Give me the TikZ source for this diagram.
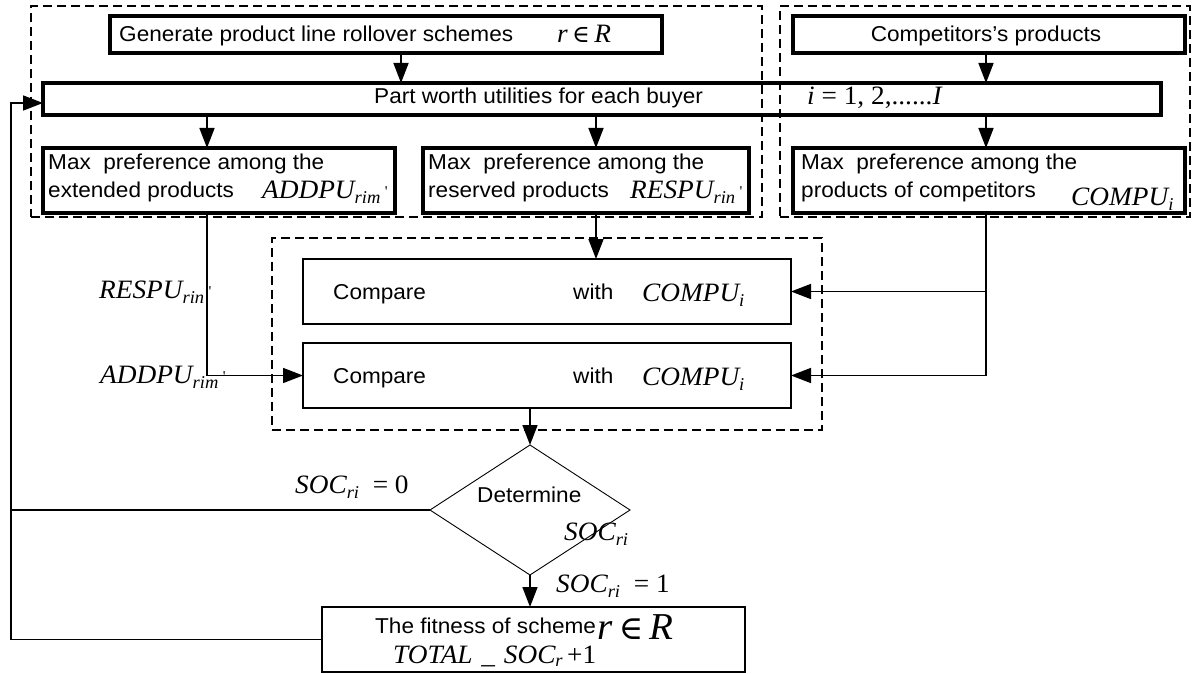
\documentclass[tikz,border=0pt]{standalone}
\usepackage{fontspec}
\setmainfont{Liberation Sans}[FakeStretch=1.05]
\newfontfamily\tms{Liberation Serif}[FakeStretch=1.03]
\newfontfamily\dvs{DejaVu Serif}
\usetikzlibrary{arrows.meta,shapes.geometric}
\newcommand\mi{\tms\itshape}
\newcommand\sz[1]{\fontsize{#1}{#1}\selectfont}
\newcommand\Vsub[2]{{\mi #1}\raisebox{-5.5pt}{\sz{18}\mi #2}}
\newcommand\prm{\,\raisebox{2pt}{\sz{15}\tms '}}
\newcommand\bx[6]{%
  \pgfmathsetmacro\bw{#4-#2}\pgfmathsetmacro\bh{#5-#3}%
  \pgfmathsetmacro\bcx{(#2+#4)/2}\pgfmathsetmacro\bcy{(#3+#5)/2}%
  \node[#6, minimum width=\bw pt, minimum height=\bh pt] (#1) at (\bcx,\bcy) {};}
\tikzset{
  base/.style={draw=black, inner sep=0pt, outer sep=0pt},
  dbox/.style={base, line width=2.8pt, dash pattern=on 9pt off 5pt},
  tbox/.style={base, line width=3.5pt},
  nbox/.style={base, line width=1.8pt},
  conn/.style={line width=1.6pt, -{Triangle[length=20pt,width=15pt]}},
  plain/.style={line width=1.6pt},
  lab/.style={anchor=base west, inner sep=0pt, font=\sz{21.5}},
  mlab/.style={anchor=base west, inner sep=0pt, font=\sz{26.5}\tms},
}
\begin{document}
\begin{tikzpicture}[x=1pt, y=-1pt]
\useasboundingbox (0,0) rectangle (1194,674);
% dashed groups
\bx{grpA}{31}{6}{762}{217}{dbox}
\bx{grpB}{780}{6}{1190}{217}{dbox}
\bx{grpC}{272}{238}{822}{430}{dbox}
% boxes
\bx{gen}{110}{16}{662}{53}{tbox}
\bx{comp}{793}{16}{1185}{53}{tbox}
\bx{pw}{43}{83}{1161}{115}{tbox}
\bx{maxL}{43}{148}{395}{213}{tbox}
\bx{maxM}{423}{148}{749}{213}{tbox}
\bx{maxR}{793}{148}{1185}{213}{tbox}
\bx{cmpA}{303}{259}{791}{324}{nbox}
\bx{cmpB}{303}{343}{791}{408}{nbox}
\node[base, diamond, line width=0.9pt, minimum width=200pt, minimum height=130pt] (dia) at (530,510) {};
\bx{fit}{322}{607}{745}{672}{nbox}
% coordinates
\coordinate (xg) at (401,0);
\coordinate (xl) at (207,0);
\coordinate (xm) at (596,0);
\coordinate (xr) at (986,0);
\coordinate (fbtop) at (11,103);
% texts
\node[lab] (tgen) at (119,42) {Generate product line rollover schemes};
\node[mlab] (tgenr) at (557,43) {{\mi r}\,{\dvs\sz{24}∈}\,{\mi R}};
\node[lab, anchor=base] (tcomp) at (986,42) {Competitors's products};
\node[lab] (tpw) at (374,104) {Part worth utilities for each buyer};
\node[mlab] (tpwi) at (807,105) {{\mi i} = 1, 2,......{\mi I}};
\node[lab] (tl1) at (48,169) {Max\ \ preference among the};
\node[lab] (tl2) at (48,197) {extended products};
\node[mlab] (tl3) at (262,198) {\Vsub{ADDPU}{rim}\prm};
\node[lab] (tm1) at (428,169) {Max\ \ preference among the};
\node[lab] (tm2) at (428,197) {reserved products};
\node[mlab] (tm3) at (630,198) {\Vsub{RESPU}{rin}\prm};
\node[lab] (tr1) at (801,169) {Max\ \ preference among the};
\node[lab] (tr2) at (801,197) {products of competitors};
\node[mlab] (tr3) at (1071,205) {\Vsub{COMPU}{i}};
\node[lab] (ca1) at (333,299) {Compare};
\node[lab] (ca2) at (573,299) {with};
\node[mlab] (ca3) at (642,301) {\Vsub{COMPU}{i}};
\node[lab] (cb1) at (333,383) {Compare};
\node[lab] (cb2) at (573,383) {with};
\node[mlab] (cb3) at (642,385) {\Vsub{COMPU}{i}};
\node[mlab] (lres) at (99,298) {\Vsub{RESPU}{rin}\prm};
\node[mlab] (ladd) at (100,383) {\Vsub{ADDPU}{rim}\prm};
\node[lab] (tdet) at (477,502) {Determine};
\node[mlab] (tsoc) at (564,540) {\Vsub{SOC}{ri}};
\node[mlab] (tsoc0) at (295,493) {\Vsub{SOC}{ri}\ \ = 0};
\node[mlab] (tsoc1) at (556,592) {\Vsub{SOC}{ri}\ \ = 1};
\node[lab] (tfit) at (375,633) {The fitness of scheme};
\node[anchor=base west, inner sep=0pt, font=\sz{38}\tms] (tfitr) at (597,639) {{\mi r}\,{\dvs\sz{33}∈}\,{\mi R}};
\node[mlab] (ttot) at (393,663) {{\mi TOTAL}\,\,\_\,\,{\mi SOC}\raisebox{-3.5pt}{\sz{18}\mi r}\,+1};
% connectors
\draw[conn] (gen.south -| xg) -- (pw.north -| xg);
\draw[conn] (comp.south -| xr) -- (pw.north -| xr);
\draw[conn] (pw.south -| xl) -- (maxL.north -| xl);
\draw[conn] (pw.south -| xm) -- (maxM.north -| xm);
\draw[conn] (pw.south -| xr) -- (maxR.north -| xr);
\draw[conn] (maxM.south -| xm) -- (cmpA.north -| xm);
\draw[conn] (maxL.south -| xl) |- (cmpB.west);
\draw[conn] (maxR.south -| xr) |- (cmpA.east);
\draw[conn] (maxR.south -| xr) |- (cmpB.east);
\draw[conn] (cmpB.south -| dia.north) -- (dia.north);
\draw[conn] (dia.south) -- (fit.north -| dia.south);
\draw[plain] (dia.west) -- (dia.west -| fbtop);
\draw[conn] (fit.west) -| (fbtop) -- (fbtop -| pw.west);
\end{tikzpicture}
\end{document}
